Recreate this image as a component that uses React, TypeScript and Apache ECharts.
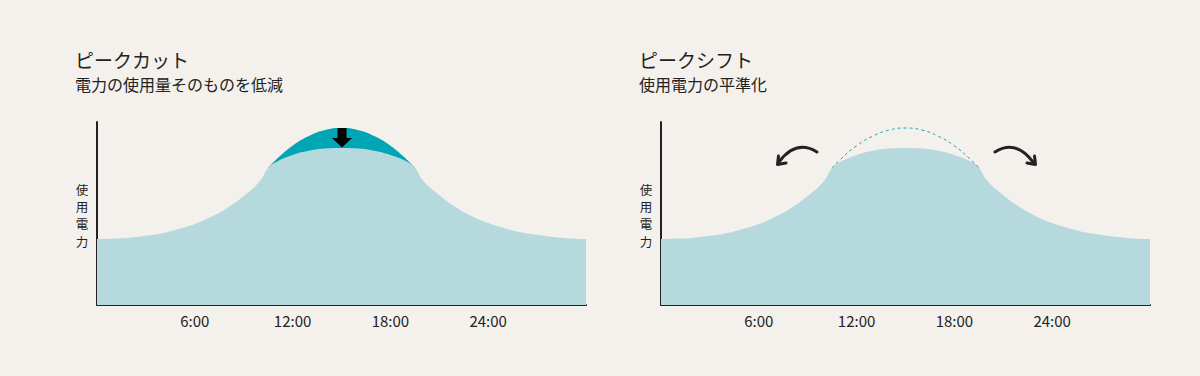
import React, { useEffect, useRef } from "react";
import * as echarts from "echarts";

// Hours of the day (x) and power usage (relative, 0-100)
const hours = [0, 1, 2, 3, 4, 5, 6, 7, 8, 9, 10, 10.5, 11, 12, 13, 14, 15, 16, 17, 18, 19, 19.5, 20, 21, 22, 23, 24, 25, 26, 27, 28, 29, 30];
const usageAfter = [36, 36.3, 36.8, 37.8, 39.2, 41.5, 44.3, 48.2, 53.2, 59.6, 67.8, 75, 78.2, 82, 84.3, 85.5, 85.8, 85.5, 84.3, 82, 78.4, 75, 68, 60, 53.5, 48.5, 44.8, 42, 39.8, 38.4, 37.2, 36.4, 36];
const peakHours = [10.5, 11, 12, 13, 14, 15, 16, 17, 18, 19, 19.5];
const usageBefore = [75, 79.5, 87, 92.3, 95.6, 96.7, 95.6, 92.3, 87, 79.5, 75];
const tickHours = [6, 12, 18, 24];

const titles = ["ピークカット", "ピークシフト"];
const subtitles = ["電力の使用量そのものを低減", "使用電力の平準化"];
const yNameChars = ["使", "用", "電", "力"];

const BG = "#f4f1ec";
const LIGHT = "#b6d9de";
const TEAL = "#00a6b4";
const INK = "#222222";
const FONT = "'Noto Sans CJK JP', 'Noto Sans', sans-serif";

export default function App() {
  const ref = useRef<HTMLDivElement>(null);
  useEffect(() => {
    if (!ref.current) return;
    const chart = echarts.init(ref.current, null, { renderer: "svg" });
    const after = hours.map((h, i) => [h, usageAfter[i]]);
    const before = peakHours.map((h, i) => [h, usageBefore[i]]);
    const grids = [
      { left: 97, top: 122, width: 489, height: 183 },
      { left: 661, top: 122, width: 489, height: 183 },
    ];
    const xAxis = grids.map((_, i) => ({
      type: "value",
      gridIndex: i,
      min: 0,
      max: 30,
      interval: 6,
      axisLine: { show: true, lineStyle: { color: INK, width: 2 } },
      axisTick: { show: true, inside: true, length: 10, customValues: tickHours, lineStyle: { color: INK, width: 2 } },
      axisLabel: {
        show: true,
        customValues: tickHours,
        margin: 8,
        color: INK,
        fontSize: 15,
        fontFamily: FONT,
        formatter: (v: number) => `${v}:00`,
      },
      splitLine: { show: false },
    }));
    const yAxis = grids.map((_, i) => ({
      type: "value",
      gridIndex: i,
      min: 0,
      max: 100,
      axisLine: { show: true, lineStyle: { color: INK, width: 2 } },
      axisTick: { show: false },
      axisLabel: { show: false },
      splitLine: { show: false },
    }));
    const graphics: any[] = [];
    [75, 639].forEach((x, i) => {
      graphics.push({
        type: "text",
        x,
        y: 59,
        style: { text: titles[i], fontSize: 19, fontFamily: FONT, fill: INK, verticalAlign: "middle" },
      });
      graphics.push({
        type: "text",
        x,
        y: 84,
        style: { text: subtitles[i], fontSize: 16, fontFamily: FONT, fill: INK, verticalAlign: "middle" },
      });
      yNameChars.forEach((c, k) => {
        graphics.push({
          type: "text",
          x: i === 0 ? 82 : 646,
          y: 189.5 + k * 17.2,
          style: {
            text: c,
            fontSize: 12.5,
            fontFamily: FONT,
            fill: INK,
            align: "center",
            verticalAlign: "middle",
          },
        });
      });
    });
    // down arrow (peak cut)
    graphics.push({
      type: "polygon",
      shape: {
        points: [[337.5, 128], [346.5, 128], [346.5, 138], [352, 138], [342, 147.5], [332, 138], [337.5, 138]],
      },
      style: { fill: "#000" },
      z: 100,
    });
    // curved arrows (peak shift)
    const arrowStyle = { stroke: INK, lineWidth: 3, fill: "none", lineCap: "round", lineJoin: "round" };
    graphics.push({
      type: "bezierCurve",
      shape: { x1: 817, y1: 152, cpx1: 796, cpy1: 139, x2: 779, y2: 162 },
      style: arrowStyle,
      z: 100,
    });
    graphics.push({
      type: "polyline",
      shape: { points: [[778.5, 156], [777.5, 164.5], [786, 163]] },
      style: arrowStyle,
      z: 100,
    });
    graphics.push({
      type: "bezierCurve",
      shape: { x1: 995, y1: 152, cpx1: 1016, cpy1: 139, x2: 1033, y2: 162 },
      style: arrowStyle,
      z: 100,
    });
    graphics.push({
      type: "polyline",
      shape: { points: [[1034.5, 156], [1035.5, 164.5], [1027, 163]] },
      style: arrowStyle,
      z: 100,
    });

    const areaSeries = (idx: number) => ({
      type: "line",
      xAxisIndex: idx,
      yAxisIndex: idx,
      data: after,
      smooth: 0.5,
      symbol: "none",
      lineStyle: { width: 0 },
      areaStyle: { color: LIGHT, opacity: 1 },
      z: 2,
    });

    chart.setOption({
      animation: false,
      backgroundColor: BG,
      grid: grids,
      xAxis,
      yAxis,
      series: [
        {
          type: "line",
          xAxisIndex: 0,
          yAxisIndex: 0,
          data: before,
          smooth: 0.5,
          symbol: "none",
          lineStyle: { width: 0 },
          areaStyle: { color: TEAL, opacity: 1 },
          z: 1,
        },
        areaSeries(0),
        areaSeries(1),
        {
          type: "line",
          xAxisIndex: 1,
          yAxisIndex: 1,
          data: before,
          smooth: 0.5,
          symbol: "none",
          lineStyle: { width: 1, color: "#1aa6b5", type: [3, 3] },
          z: 3,
        },
      ],
      graphic: graphics,
    });
    return () => chart.dispose();
  }, []);
  return (
    <div
      ref={ref}
      style={{ position: "fixed", left: 0, top: 0, width: 1200, height: 376, background: BG }}
    />
  );
}
